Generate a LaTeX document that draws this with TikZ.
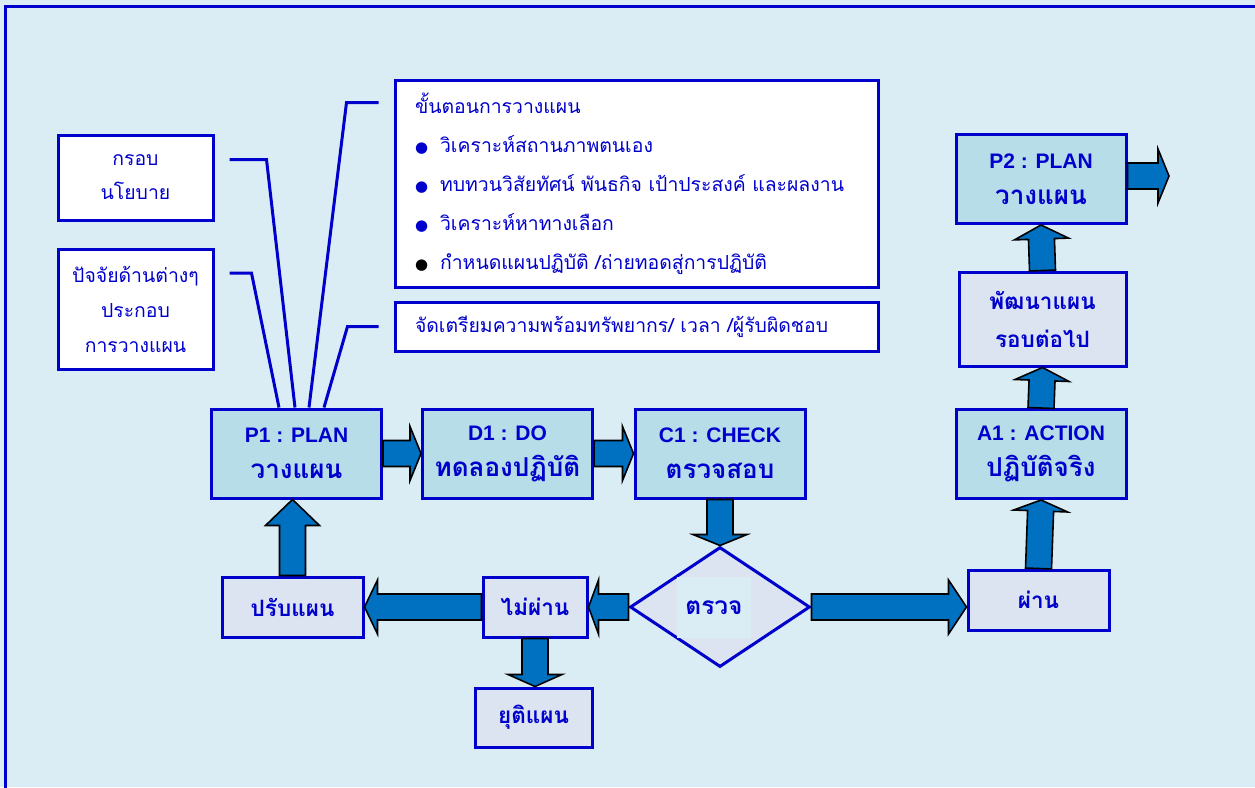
\documentclass[tikz,border=0pt]{standalone}
\usepackage{fontspec}
\setmainfont{Liberation Sans}
\newfontfamily\thaifont[Script=Thai]{Loma}
\newfontfamily\symfont{DejaVu Sans}
\usetikzlibrary{shapes.geometric,calc}

\definecolor{bgblue}{HTML}{DBEDF4}
\definecolor{lineblue}{HTML}{0000CC}
\definecolor{mainfill}{HTML}{B7DDE8}
\definecolor{subfill}{HTML}{DBE4F0}
\definecolor{arrowblue}{HTML}{0070C0}

\tikzset{
  note/.style={draw=lineblue, line width=3pt, fill=white, text=lineblue,
    font=\thaifont\fontsize{19.4}{34}\selectfont, align=center},
  stage/.style={draw=lineblue, line width=3pt, fill=mainfill, text=lineblue,
    font=\bfseries\fontsize{21}{36}\selectfont, align=center,
    minimum width=170pt, minimum height=89pt},
  result/.style={draw=lineblue, line width=3pt, fill=subfill, text=lineblue,
    font=\thaifont\bfseries\fontsize{22.5}{38}\selectfont, align=center,
    minimum height=60pt},
  link/.style={draw=lineblue, line width=3pt},
  fatarrow/.style={draw=black, line width=1.6pt, fill=arrowblue, line join=miter},
}
\newcommand{\stepdot}{{\symfont\fontsize{15}{15}\selectfont ●}\hspace{12pt}}
\newcommand{\thaibig}{\thaifont\fontsize{26}{36}\selectfont}

% block arrow from #2 to #3, head length #1
\newcommand{\fatarrow}[3][12pt]{%
  \coordinate (fa) at ($(#3)!#1!(#2)$);
  \draw[fatarrow] ($(#2)!13pt!90:(#3)$) -- ($(fa)!13pt!90:(#3)$)
    -- ($(fa)!27pt!90:(#3)$) -- (#3) -- ($(fa)!27pt!-90:(#3)$)
    -- ($(fa)!13pt!-90:(#3)$) -- ($(#2)!13pt!-90:(#3)$) -- cycle;}

\begin{document}
\begin{tikzpicture}[x=1pt, y=1pt]
    \useasboundingbox (0,0) rectangle (1255,-787);
    \fill[bgblue] (0,0) rectangle (1255,-787);
    % frame
    \draw[lineblue, line width=3pt] (5,-800) -- (5,-6) -- (1270,-6);

    % notes above the plan
    \node[note, minimum width=155pt, minimum height=85pt] (kb) at (135.5,-177.5) {กรอบ\\นโยบาย};
    \node[note, minimum width=155pt, minimum height=120pt, font=\thaifont\fontsize{19.4}{35}\selectfont]
        (pj) at (135.5,-309) {ปัจจัยด้านต่างๆ\\ประกอบ\\การวางแผน};
    \node[note, text width=443pt, inner xsep=20pt, minimum height=207pt, align=left,
        font=\thaifont\fontsize{19.4}{39}\selectfont] (steps) at (636.5,-183.5)
        {ขั้นตอนการวางแผน\\
         \stepdot วิเคราะห์สถานภาพตนเอง\\
         \stepdot ทบทวนวิสัยทัศน์ พันธกิจ เป้าประสงค์ และผลงาน\\
         \stepdot วิเคราะห์หาทางเลือก\\
         {\color{black}\stepdot}กำหนดแผนปฏิบัติ /ถ่ายทอดสู่การปฏิบัติ};
    \node[note, text width=443pt, inner xsep=20pt, minimum height=49pt, align=left] (prep)
        at (636.5,-326.5) {จัดเตรียมความพร้อมทรัพยากร/ เวลา /ผู้รับผิดชอบ};

    % main cycle
    \node[stage] (p1) at (296.5,-453.5) {P1 : PLAN\\{\thaibig วางแผน}};
    \node[stage] (d1) at (507.5,-453.5) {D1 : DO\\{\thaibig ทดลองปฏิบัติ}};
    \node[stage] (c1) at (720,-453.5) {C1 : CHECK\\{\thaibig ตรวจสอบ}};
    \node[diamond, aspect=1.5, draw=lineblue, line width=3pt, fill=subfill,
        minimum width=180pt, minimum height=120pt, inner sep=0pt] (chk) at (720,-607) {};
    \node[fill=bgblue, text=lineblue, font=\thaifont\bfseries\fontsize{24.5}{26}\selectfont,
        minimum width=74pt, minimum height=61pt] (chktxt) at (714,-607.5) {ตรวจ};
    \node[result, minimum width=104pt] (np) at (535,-607) {ไม่ผ่าน};
    \node[result, minimum width=141pt] (pb) at (292.5,-607) {ปรับแผน};
    \node[result, minimum width=117pt, minimum height=59pt] (yt) at (533.5,-717.5) {ยุติแผน};
    \node[result, minimum width=141pt] (ps) at (1038.5,-600) {ผ่าน};
    \node[stage] (a1) at (1041,-454) {A1 : ACTION\\{\thaibig ปฏิบัติจริง}};
    \node[result, minimum width=167pt, minimum height=94pt] (dv) at (1042.5,-319) {พัฒนาแผน\\รอบต่อไป};
    \node[stage] (p2) at (1041,-179) {P2 : PLAN\\{\thaibig วางแผน}};
    \coordinate (next) at (1169,-176);

    % lines into P1
    \draw[link] ($(kb.east)+(15,18)$) -- ++(37,0) -- ($(p1.north west)+(85,0)$);
    \draw[link] ($(pj.east)+(15,36)$) -- ++(22,0) -- ($(p1.north west)+(69,0)$);
    \draw[link] ($(steps.north west)+(-15,-24)$) -- ++(-32,0) -- ($(p1.north west)+(99,0)$);
    \draw[link] ($(prep.west)+(-15,0)$) -- ++(-31,0) -- ($(p1.north west)+(114,0)$);

    % block arrows
    \fatarrow[11pt]{p1.east}{d1.west}
    \fatarrow[11pt]{d1.east}{c1.west}
    \fatarrow[11pt]{c1.south}{chk.north}
    \fatarrow[10pt]{chk.west}{np.east}
    \fatarrow[13pt]{np.west}{pb.east}
    \coordinate (pbin) at (pb.north |- p1.south);
    \fatarrow[26pt]{pb.north}{pbin}
    \coordinate (ytin) at (np.south |- yt.north);
    \fatarrow[12pt]{np.south}{ytin}
    \coordinate (psin) at (chk.east -| ps.west);
    \fatarrow[18pt]{chk.east}{psin}
    \fatarrow[11pt]{ps.north}{a1.south}
    \fatarrow[13pt]{a1.north}{dv.south}
    \fatarrow[14pt]{dv.north}{p2.south}
    \coordinate (p2out) at (p2.east |- next);
    \fatarrow[11pt]{p2out}{next}
\end{tikzpicture}
\end{document}
